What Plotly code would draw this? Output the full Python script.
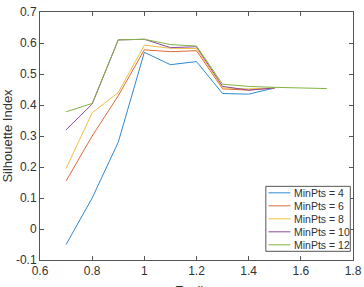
import plotly.graph_objects as go

eps_short = [0.7, 0.8, 0.9, 1.0, 1.1, 1.2, 1.3, 1.4, 1.5]
eps_long = [0.7, 0.8, 0.9, 1.0, 1.1, 1.2, 1.3, 1.4, 1.5, 1.6, 1.7]

minpts4 = [-0.05, 0.10, 0.28, 0.57, 0.53, 0.54, 0.437, 0.435, 0.455]
minpts6 = [0.155, 0.30, 0.43, 0.578, 0.572, 0.575, 0.452, 0.448, 0.455]
minpts8 = [0.195, 0.375, 0.44, 0.593, 0.583, 0.582, 0.455, 0.452, 0.455]
minpts10 = [0.32, 0.403, 0.61, 0.612, 0.585, 0.588, 0.46, 0.448, 0.455]
minpts12 = [0.378, 0.405, 0.61, 0.612, 0.595, 0.59, 0.467, 0.46, 0.457, 0.455, 0.453]

names = ["MinPts = 4", "MinPts = 6", "MinPts = 8", "MinPts = 10", "MinPts = 12"]
xs = [eps_short, eps_short, eps_short, eps_short, eps_long]
ys = [minpts4, minpts6, minpts8, minpts10, minpts12]
colors = ["#2f8ad0", "#dd6a3a", "#efbf45", "#8e4a9e", "#84b445"]

xticks = [0.6, 0.8, 1.0, 1.2, 1.4, 1.6, 1.8]
xticklabels = ["0.6", "0.8", "1", "1.2", "1.4", "1.6", "1.8"]
yticks = [-0.1, 0, 0.1, 0.2, 0.3, 0.4, 0.5, 0.6, 0.7]
yticklabels = ["-0.1", "0", "0.1", "0.2", "0.3", "0.4", "0.5", "0.6", "0.7"]
x_title = "Epsilon"
y_title = "Silhouette Index"

fig = go.Figure()
for name, x, y, c in zip(names, xs, ys, colors):
    fig.add_trace(go.Scatter(x=x, y=y, mode="lines", name=name,
                             line=dict(color=c, width=1), showlegend=False))

axis_common = dict(
    showgrid=False, zeroline=False, showline=True, mirror="ticks",
    linecolor="#555555", linewidth=1, ticks="inside", ticklen=4,
    tickcolor="#555555", tickfont=dict(size=12, color="#333333"),
    automargin=False,
)

# manual legend box (paper coordinates)
lx0, lx1, ly0, ly1 = 0.7215, 0.9914, 0.035, 0.297
shapes = [dict(type="rect", xref="paper", yref="paper", x0=lx0, x1=lx1,
               y0=ly0, y1=ly1, line=dict(color="#555555", width=1),
               fillcolor="white", layer="above")]
annotations = []
n = len(names)
for i, (name, c) in enumerate(zip(names, colors)):
    yc = ly1 - (ly1 - ly0) * (i + 0.5) / n
    shapes.append(dict(type="line", xref="paper", yref="paper",
                       x0=0.730, x1=0.800, y0=yc, y1=yc,
                       line=dict(color=c, width=1), layer="above"))
    annotations.append(dict(xref="paper", yref="paper", x=0.804, y=yc,
                            text=name, showarrow=False, xanchor="left",
                            yanchor="middle",
                            font=dict(size=10.5, color="#333333")))

annotations.append(dict(xref="paper", yref="paper", x=0.5, y=0,
                        text=x_title, showarrow=False, xanchor="center",
                        yanchor="top", yshift=-21,
                        font=dict(size=13, color="#333333")))

fig.update_layout(
    width=364, height=287,
    margin=dict(l=40, r=11, t=12, b=27),
    paper_bgcolor="white", plot_bgcolor="white",
    font=dict(family="Liberation Sans, Arial, sans-serif", color="#333333"),
    xaxis=dict(range=[0.6, 1.8], tickvals=xticks, ticktext=xticklabels,
               **axis_common),
    yaxis=dict(range=[-0.1, 0.7], tickvals=yticks, ticktext=yticklabels,
               title=dict(text=y_title, font=dict(size=13)),
               **axis_common),
    shapes=shapes, annotations=annotations,
    showlegend=False,
)

fig.write_html("out.html")
